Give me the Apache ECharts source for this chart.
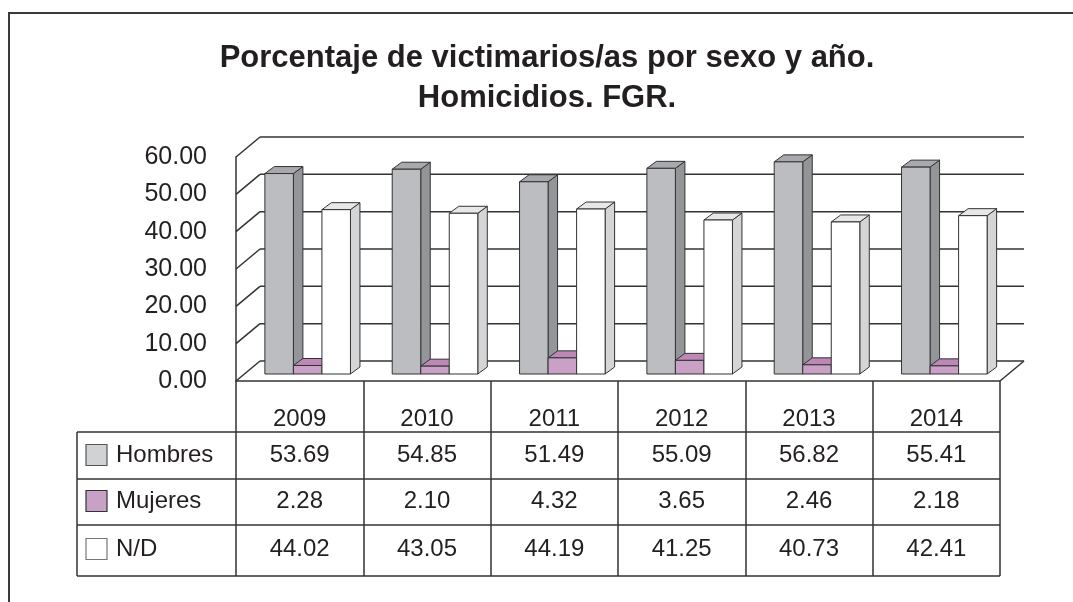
<!DOCTYPE html>
<html>
<head>
<meta charset="utf-8">
<script src="https://cdn.jsdelivr.net/npm/echarts@6/dist/echarts.min.js"></script>
<style>
html,body{margin:0;padding:0;background:#fff;}
#main{width:1073px;height:602px;}
</style>
</head>
<body>
<div id="main"></div>
<script>
// datos
var years = ['2009', '2010', '2011', '2012', '2013', '2014'];
var seriesNames = ['Hombres', 'Mujeres', 'N/D'];
var hombres = [53.69, 54.85, 51.49, 55.09, 56.82, 55.41];
var mujeres = [2.28, 2.10, 4.32, 3.65, 2.46, 2.18];
var nd = [44.02, 43.05, 44.19, 41.25, 40.73, 42.41];
var yTicks = [0, 10, 20, 30, 40, 50, 60];

var FONT = "'Liberation Sans', Arial, sans-serif";
var INK = '#231f20';
var EDGE = '#333';
var DEPTH = [24, -20];   // frente -> pared del fondo
var PLANE = [8, -7];     // frente -> plano de las barras
var BOX = [9.5, -7];     // profundidad de cada barra
var BAR_FRAC = 0.224;
var ROWS_Y = [455, 501, 549];

var faces = [
	{front: '#bcbdc0', side: '#939598', top: '#a7a9ac', key: '#d1d2d4', keyBorder: '#555'},
	{front: '#c9a0c6', side: '#a97ea5', top: '#bd88b6', key: '#c9a0c6', keyBorder: '#333'},
	{front: '#ffffff', side: '#d4d5d7', top: '#e6e7e8', key: '#ffffff', keyBorder: '#777'}
];

function toPairs(arr){
	return arr.map(function(v, i){ return [i, v]; });
}

function barItem(s){
	return function(params, api){
		var i = api.value(0), v = api.value(1);
		var base = api.coord([i, 0]);
		var top = api.coord([i, v]);
		var w = api.size([1, 0])[0] * BAR_FRAC;
		var x0 = base[0] + PLANE[0] - 1.5 * w + s * w;
		var yb = base[1] + PLANE[1], yt = top[1] + PLANE[1];
		var dx = BOX[0], dy = BOX[1];
		var st = {stroke: EDGE, lineWidth: 1};
		var f = faces[s];
		return {
			type: 'group',
			children: [
				{type: 'polygon', shape: {points: [[x0 + w, yb], [x0 + w + dx, yb + dy], [x0 + w + dx, yt + dy], [x0 + w, yt]]},
					style: {fill: f.side, stroke: EDGE, lineWidth: 1}},
				{type: 'polygon', shape: {points: [[x0, yt], [x0 + w, yt], [x0 + w + dx, yt + dy], [x0 + dx, yt + dy]]},
					style: {fill: f.top, stroke: EDGE, lineWidth: 1}},
				{type: 'rect', shape: {x: x0, y: yt, width: w, height: yb - yt},
					style: {fill: f.front, stroke: EDGE, lineWidth: 1}}
			]
		};
	};
}

function wallItem(params, api){
	var cs = params.coordSys;
	var y = api.coord([0, api.value(1)])[1];
	var ls = {stroke: EDGE, lineWidth: 1.5};
	var kids = [
		{type: 'line', shape: {x1: cs.x, y1: y, x2: cs.x + DEPTH[0], y2: y + DEPTH[1]}, style: ls},
		{type: 'line', shape: {x1: cs.x + DEPTH[0], y1: y + DEPTH[1], x2: cs.x + cs.width + DEPTH[0], y2: y + DEPTH[1]}, style: ls}
	];
	if (api.value(1) === 0) {
		kids.push({type: 'line', shape: {x1: cs.x + cs.width, y1: y, x2: cs.x + cs.width + DEPTH[0], y2: y + DEPTH[1]}, style: ls});
	}
	return {type: 'group', children: kids};
}

function cellItem(s){
	return function(params, api){
		var x = api.coord([api.value(0), 0])[0];
		return {
			type: 'text',
			style: {
				text: api.value(1).toFixed(2), x: x, y: ROWS_Y[s],
				align: 'center', verticalAlign: 'middle',
				font: '24px ' + FONT, fill: INK
			}
		};
	};
}

var myChart = echarts.init(document.getElementById('main'));

var values = [hombres, mujeres, nd];
var series = [{
	name: 'pared',
	type: 'custom',
	renderItem: wallItem,
	data: yTicks.map(function(t){ return [0, t]; }),
	z: 1,
	silent: true
}];
values.forEach(function(arr, s){
	series.push({name: seriesNames[s], type: 'custom', renderItem: barItem(s), data: toPairs(arr), z: 2});
});
values.forEach(function(arr, s){
	series.push({name: seriesNames[s] + ' tabla', type: 'custom', renderItem: cellItem(s), data: toPairs(arr), z: 3, silent: true});
});

// tabla y leyenda
var lineSt = {stroke: EDGE, lineWidth: 1.5};
var graphic = [
	{type: 'polyline', shape: {points: [[9, 602], [9, 13], [1073, 13]]}, style: {stroke: '#3a3a3a', lineWidth: 2, fill: null}},
	{type: 'line', shape: {x1: 77, y1: 432, x2: 1000, y2: 432}, style: lineSt},
	{type: 'line', shape: {x1: 77, y1: 479, x2: 1000, y2: 479}, style: lineSt},
	{type: 'line', shape: {x1: 77, y1: 525, x2: 1000, y2: 525}, style: lineSt},
	{type: 'line', shape: {x1: 77, y1: 576, x2: 1000, y2: 576}, style: lineSt},
	{type: 'line', shape: {x1: 77, y1: 432, x2: 77, y2: 576}, style: lineSt}
];
seriesNames.forEach(function(name, s){
	graphic.push({type: 'rect', shape: {x: 86, y: ROWS_Y[s] - 10.5, width: 21, height: 21},
		style: {fill: faces[s].key, stroke: faces[s].keyBorder, lineWidth: 1.2}});
	graphic.push({type: 'text', style: {text: name, x: 116, y: ROWS_Y[s], verticalAlign: 'middle',
		font: '24px ' + FONT, fill: INK}});
});

option = {
	animation: false,
	title: {
		text: 'Porcentaje de victimarios/as por sexo y año.\nHomicidios. FGR.',
		left: 542,
		textAlign: 'center',
		top: 33,
		textStyle: {
			color: INK,
			fontFamily: FONT,
			fontWeight: 'bold',
			fontSize: 31,
			lineHeight: 40
		}
	},
	grid: {
		left: 236,
		top: 157,
		width: 764,
		height: 224
	},
	xAxis: {
		type: 'category',
		data: years,
		axisLine: {lineStyle: {color: EDGE, width: 1.5}},
		axisTick: {show: true, length: 195, lineStyle: {color: EDGE, width: 1.5}},
		axisLabel: {color: INK, fontFamily: FONT, fontSize: 24, margin: 26},
		splitLine: {show: false}
	},
	yAxis: {
		type: 'value',
		min: 0,
		max: 60,
		interval: 10,
		axisLine: {show: true, lineStyle: {color: EDGE, width: 1.5}},
		axisTick: {show: false},
		splitLine: {show: false},
		axisLabel: {
			color: INK, fontFamily: FONT, fontSize: 25, margin: 29,
			formatter: function(v){ return v.toFixed(2); }
		}
	},
	graphic: graphic,
	series: series
};

myChart.setOption(option);
</script>
</body>
</html>
